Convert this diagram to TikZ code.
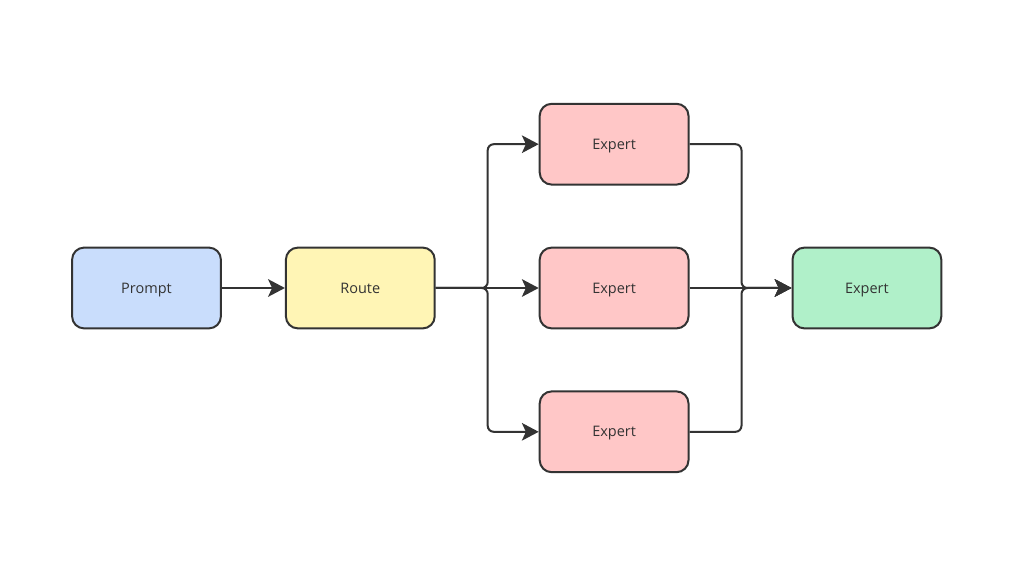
\documentclass[tikz,border=0pt]{standalone}
\usepackage{fontspec}
\setmainfont{Open Sans}
\usetikzlibrary{positioning,arrows.meta}

\definecolor{linegray}{HTML}{333333}
\definecolor{promptblue}{HTML}{C9DDFC}
\definecolor{routeyellow}{HTML}{FFF5B5}
\definecolor{expertred}{HTML}{FFC7C7}
\definecolor{outgreen}{HTML}{B0F0C9}

\tikzset{
	box/.style={draw=linegray, line width=0.05cm, rounded corners=0.3cm,
		minimum width=3.72cm, minimum height=2.02cm, font=\fontsize{10.3}{12}\selectfont,
		text=linegray, text depth=0pt},
	link/.style={draw=linegray, line width=0.05cm, rounded corners=0.15cm,
		-{Stealth[length=0.42cm, width=0.44cm, inset=0.1cm]}},
}

\begin{document}
\begin{tikzpicture}
		\useasboundingbox[fill=white] (-3.6625,-7.175) rectangle (21.9375,7.2);
		\node[box, fill=promptblue] (prompt) at (0,0) {Prompt};
		\node[box, fill=routeyellow, right=1.575cm of prompt] (route) {Route};
		\node[box, fill=expertred, right=2.575cm of route] (midexp) {Expert};
		\node[box, fill=expertred, above=1.525cm of midexp] (topexp) {Expert};
		\node[box, fill=expertred, below=1.525cm of midexp] (botexp) {Expert};
		\node[box, fill=outgreen, right=2.55cm of midexp] (result) {Expert};
		\coordinate[right=1.3cm of route.east] (split);
		\coordinate[right=1.3cm of midexp.east] (merge);

		\draw[link] (prompt) -- (route);
		\draw[link] (route.east) -- (split) |- (topexp.west);
		\draw[link] (route.east) -- (midexp.west);
		\draw[link] (route.east) -- (split) |- (botexp.west);
		\draw[link] (topexp.east) -| (merge) -- (result.west);
		\draw[link] (midexp.east) -- (result.west);
		\draw[link] (botexp.east) -| (merge) -- (result.west);
	\end{tikzpicture}
\end{document}
